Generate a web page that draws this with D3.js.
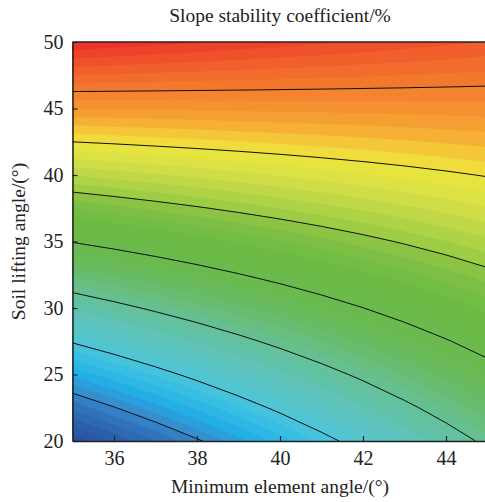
<!DOCTYPE html>
<html>
<head>
<meta charset="utf-8">
<script src="https://cdn.jsdelivr.net/npm/d3@7"></script>
<style>
body { margin: 0; background: #fff; }
text { font-family: "Liberation Serif", "Times New Roman", serif; fill: #222; }
</style>
</head>
<body>
<svg id="chart" width="485" height="502"></svg>
<script>
// grid of the surface
var xValues = [35, 36, 37, 38, 39, 40, 41, 42, 43, 44, 45];
var yValues = [20, 22.5, 25, 27.5, 30, 32.5, 35, 37.5, 40, 42.5, 45, 47.5, 50];
// one row per y value (bottom to top), one column per x value
var zRows = [
    [0.48, 3.52, 6.56, 9.60, 12.64, 15.68, 18.72, 21.76, 24.80, 27.84, 30.88],
    [7.10, 9.84, 12.59, 15.33, 18.08, 20.82, 23.57, 26.31, 29.06, 31.80, 34.55],
    [13.71, 16.16, 18.61, 21.06, 23.51, 25.96, 28.41, 30.86, 33.31, 35.76, 38.21],
    [20.33, 22.48, 24.64, 26.79, 28.95, 31.10, 33.26, 35.41, 37.57, 39.72, 41.88],
    [26.94, 28.80, 30.66, 32.52, 34.38, 36.24, 38.10, 39.96, 41.82, 43.68, 45.54],
    [33.56, 35.12, 36.69, 38.25, 39.82, 41.38, 42.95, 44.51, 46.08, 47.64, 49.21],
    [40.17, 41.44, 42.71, 43.98, 45.25, 46.52, 47.79, 49.06, 50.33, 51.60, 52.87],
    [46.79, 47.76, 48.74, 49.71, 50.69, 51.66, 52.64, 53.61, 54.59, 55.56, 56.54],
    [53.40, 54.08, 54.76, 55.44, 56.12, 56.80, 57.48, 58.16, 58.84, 59.52, 60.20],
    [60.02, 60.40, 60.79, 61.17, 61.56, 61.94, 62.33, 62.71, 63.10, 63.48, 63.87],
    [66.63, 66.72, 66.81, 66.90, 66.99, 67.08, 67.17, 67.26, 67.35, 67.44, 67.53],
    [73.25, 73.04, 72.84, 72.63, 72.43, 72.22, 72.02, 71.81, 71.61, 71.40, 71.20],
    [79.86, 79.36, 78.86, 78.36, 77.86, 77.36, 76.86, 76.36, 75.86, 75.36, 74.86]
];
var lineLevels = [10, 20, 30, 40, 50, 60, 70];
var xTicks = [36, 38, 40, 42, 44];
var yTicks = [20, 25, 30, 35, 40, 45, 50];

// palette
var stopValues = [0, 4, 8, 11, 14, 18, 21, 25, 30, 34, 38, 44, 48, 52, 56, 60, 62, 64, 66, 69, 72, 75, 78, 80];
var stopColors = ["#2a4a9c", "#2c5ea9", "#3276bd", "#3590cf", "#22aee6", "#3cc0e2", "#52c5d2", "#5ec4bd",
    "#64c096", "#68bc70", "#6aba52", "#6cbb45", "#7ebf44", "#aad146", "#d2de48", "#ede63e",
    "#f3cd39", "#f5b235", "#f59c32", "#f4852f", "#f2702d", "#f0582b", "#ee3f2a", "#ed2b2a"];

var svg = d3.select("#chart");
var mLeft = 72.5, mRight = 487.5, mTop = 42, mBottom = 441;
var serif = '"Liberation Serif", "Times New Roman", serif';

var x = d3.scaleLinear().domain([35, 45]).range([mLeft, mRight]);
var y = d3.scaleLinear().domain([20, 50]).range([mBottom, mTop]);

var nx = xValues.length, ny = yValues.length;
// d3.contours puts sample i at grid coordinate i + 0.5
var gx = d3.scaleLinear().domain([0.5, nx - 0.5]).range([x(xValues[0]), x(xValues[nx - 1])]);
var gy = d3.scaleLinear().domain([0.5, ny - 0.5]).range([y(yValues[0]), y(yValues[ny - 1])]);

var flat = [];
zRows.forEach(row => row.forEach(v => flat.push(v)));

var color = d3.scaleLinear().domain(stopValues).range(stopColors);

var step = 10 / 6;
var fillLevels = d3.range(0, 49).map(i => i * step);

function ringPath(geom) {
    return geom.coordinates.map(function(poly) {
        return poly.map(function(ring) {
            return "M" + ring.map(p => gx(p[0]).toFixed(2) + "," + gy(p[1]).toFixed(2)).join("L") + "Z";
        }).join("");
    }).join("");
}

svg.append("clipPath").attr("id", "plotClip")
    .append("rect")
    .attr("x", mLeft).attr("y", mTop)
    .attr("width", mRight - mLeft).attr("height", mBottom - mTop);

var plot = svg.append("g").attr("clip-path", "url(#plotClip)");

plot.append("rect")
    .attr("x", mLeft).attr("y", mTop)
    .attr("width", mRight - mLeft).attr("height", mBottom - mTop)
    .attr("fill", color(0));

var contours = d3.contours().size([nx, ny]).thresholds(fillLevels);

plot.selectAll("path.band")
    .data(contours(flat))
    .enter()
    .append("path")
    .attr("class", "band")
    .attr("d", ringPath)
    .attr("fill", d => color(d.value + step / 2))
    .attr("stroke", d => color(d.value + step / 2))
    .attr("stroke-width", 0.5);

var lines = d3.contours().size([nx, ny]).thresholds(lineLevels);

plot.selectAll("path.iso")
    .data(lines(flat))
    .enter()
    .append("path")
    .attr("class", "iso")
    .attr("d", ringPath)
    .attr("fill", "none")
    .attr("stroke", "#111")
    .attr("stroke-width", 1);

// frame
svg.append("line")
    .attr("x1", mLeft).attr("x2", mRight)
    .attr("y1", mTop).attr("y2", mTop)
    .attr("stroke", "#222").attr("stroke-width", 1.5);

var xAxis = svg.append("g")
    .attr("transform", `translate(0, ${mBottom})`)
    .call(d3.axisBottom(x).tickValues(xTicks).tickSizeInner(-5).tickSizeOuter(0).tickPadding(10));

var yAxis = svg.append("g")
    .attr("transform", `translate(${mLeft}, 0)`)
    .call(d3.axisLeft(y).tickValues(yTicks).tickSizeInner(-5).tickSizeOuter(0).tickPadding(9));

[xAxis, yAxis].forEach(function(ax) {
    ax.attr("font-family", serif).attr("font-size", 20);
    ax.select(".domain").attr("stroke", "#222").attr("stroke-width", 1.5);
    ax.selectAll(".tick line").attr("stroke", "#222").attr("stroke-width", 1.2);
    ax.selectAll(".tick text")
        .style("font-family", serif)
        .style("font-size", "20px")
        .attr("fill", "#222");
});

svg.append("text")
    .attr("x", (mLeft + mRight) / 2)
    .attr("y", 22)
    .attr("text-anchor", "middle")
    .style("font-family", serif)
    .style("font-size", "19.5px")
    .text("Slope stability coefficient/%");

svg.append("text")
    .attr("x", (mLeft + mRight) / 2)
    .attr("y", 493)
    .attr("text-anchor", "middle")
    .style("font-family", serif)
    .style("font-size", "19.5px")
    .text("Minimum element angle/(°)");

svg.append("text")
    .attr("transform", `translate(25, ${(mTop + mBottom) / 2}) rotate(-90)`)
    .attr("text-anchor", "middle")
    .style("font-family", serif)
    .style("font-size", "19.5px")
    .text("Soil lifting angle/(°)");
</script>
</body>
</html>
